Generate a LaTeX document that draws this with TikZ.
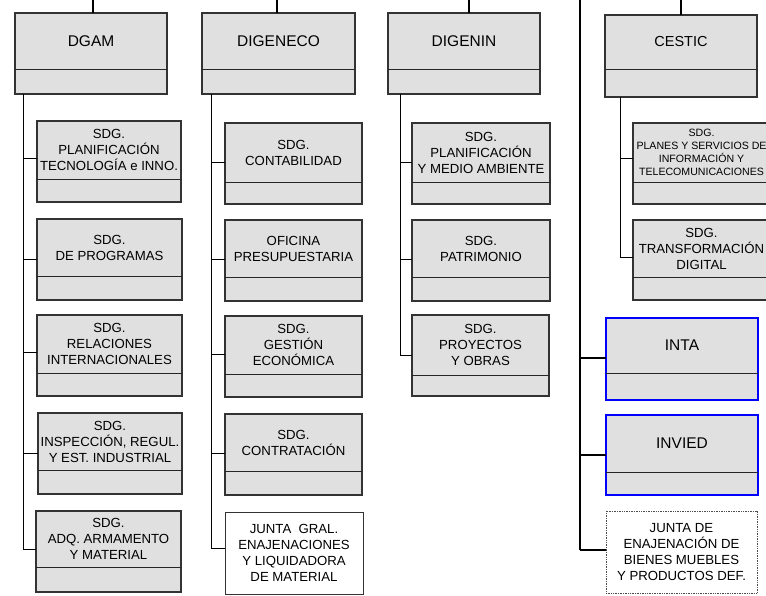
\documentclass[tikz,border=0pt]{standalone}
\usepackage{fontspec}
\setmainfont{Liberation Sans}
\begin{document}
\begin{tikzpicture}[x=1pt,y=-1pt,
  boxbase/.style={draw=black!80, line width=1.1pt, fill=black!12, inner sep=0pt, outer sep=0pt, anchor=north west},
  bluebox/.style={boxbase, draw=blue, line width=1.6pt},
  whitebox/.style={boxbase, fill=white, line width=0.9pt},
  dotbox/.style={boxbase, fill=white, draw=black!70, line width=0.7pt, densely dotted},
  divider/.style={draw=black!85, line width=0.9pt},
  topline/.style={draw=black, line width=1.6pt},
  spine/.style={draw=black, line width=0.9pt},
  mainline/.style={draw=black, line width=1.6pt},
  headtxt/.style={font=\fontsize{15.5}{18}\selectfont, align=center, inner sep=0pt},
  kidtxt/.style={font=\fontsize{13.2}{16}\selectfont, align=center, inner sep=0pt},
  smalltxt/.style={font=\fontsize{10.6}{13}\selectfont, align=center, inner sep=0pt}
]
\clip (0,0) rectangle (766,595);
\fill[white] (0,0) rectangle (766,595);

% #1 name, #2 x1, #3 y1, #4 x2, #5 y2, #6 divider y, #7 box style, #8 text style, #9 text
\newcommand\orgbox[9]{%
  \node[#7, minimum width=#4pt-#2pt, minimum height=#5pt-#3pt] (#1) at (#2,#3) {};
  \draw[divider] (#1.west |- 0,#6) -- (#1.east |- 0,#6);
  \node[#8] (#1t) at ({(#2+#4)/2},{(#3+#6)/2}) {#9};
}
\newcommand\plainbox[8]{%
  \node[#6, minimum width=#4pt-#2pt, minimum height=#5pt-#3pt] (#1) at (#2,#3) {};
  \node[#7] (#1t) at (#1.center) {#8};
}

% heads
\orgbox{dgam}{15}{13}{167}{94}{69}{boxbase}{headtxt}{DGAM}
\orgbox{digeneco}{202}{13}{355}{94}{69}{boxbase}{headtxt}{DIGENECO}
\orgbox{digenin}{388}{13}{540}{94}{69}{boxbase}{headtxt}{DIGENIN}
\orgbox{cestic}{605}{15}{757}{97}{69}{boxbase}{headtxt, font=\fontsize{14.5}{17}\selectfont}{CESTIC}

\coordinate (dgamtop) at (93,0);
\coordinate (digenecotop) at (277,0);
\coordinate (digenintop) at (469,0);
\coordinate (cestictop) at (681,0);
\draw[topline] (dgamtop) -- (dgamtop |- dgam.north);
\draw[topline] (digenecotop) -- (digenecotop |- digeneco.north);
\draw[topline] (digenintop) -- (digenintop |- digenin.north);
\draw[topline] (cestictop) -- (cestictop |- cestic.north);

% DGAM children
\orgbox{a1}{37}{121}{181}{202}{179}{boxbase}{kidtxt}{SDG.\\PLANIFICACIÓN\\TECNOLOGÍA e INNO.}
\orgbox{a2}{37}{219}{182}{300}{276}{boxbase}{kidtxt}{SDG.\\DE PROGRAMAS}
\orgbox{a3}{37}{315}{182}{396}{373}{boxbase}{kidtxt}{SDG.\\RELACIONES\\INTERNACIONALES}
\orgbox{a4}{38}{413}{182}{494}{470}{boxbase}{kidtxt}{SDG.\\INSPECCIÓN, REGUL.\\Y EST. INDUSTRIAL}
\orgbox{a5}{36}{511}{181}{592}{567}{boxbase}{kidtxt}{SDG.\\ADQ. ARMAMENTO\\Y MATERIAL}

\coordinate (aS) at (23,94);
\coordinate (aE) at (23,549);
\draw[spine] (aS) -- (aE);
\draw[spine] (a1.west |- 0,158) -- (aS |- 0,158);
\draw[spine] (a2.west |- 0,259) -- (aS |- 0,259);
\draw[spine] (a3.west |- 0,352) -- (aS |- 0,352);
\draw[spine] (a4.west |- 0,453) -- (aS |- 0,453);
\draw[spine] (a5.west |- aE) -- (aE);

% DIGENECO children
\orgbox{b1}{225}{123}{362}{204}{182}{boxbase}{kidtxt}{SDG.\\CONTABILIDAD}
\orgbox{b2}{225}{220}{362}{301}{277}{boxbase}{kidtxt}{OFICINA\\PRESUPUESTARIA}
\orgbox{b3}{225}{316}{362}{397}{374}{boxbase}{kidtxt}{SDG.\\GESTIÓN\\ECONÓMICA}
\orgbox{b4}{225}{414}{362}{495}{471}{boxbase}{kidtxt}{SDG.\\CONTRATACIÓN}
\plainbox{b5}{225}{512}{363}{594}{whitebox}{kidtxt}{JUNTA\ \ GRAL.\\ENAJENACIONES\\Y LIQUIDADORA\\DE MATERIAL}

\coordinate (bS) at (211,94);
\coordinate (bE) at (211,548);
\draw[spine] (bS) -- (bE);
\draw[spine] (b1.west |- 0,162) -- (bS |- 0,162);
\draw[spine] (b2.west |- 0,259) -- (bS |- 0,259);
\draw[spine] (b3.west |- 0,354) -- (bS |- 0,354);
\draw[spine] (b4.west |- 0,453) -- (bS |- 0,453);
\draw[spine] (b5.west |- bE) -- (bE);

% DIGENIN children
\orgbox{c1}{412}{123}{550}{204}{182}{boxbase}{kidtxt}{SDG.\\PLANIFICACIÓN\\Y MEDIO AMBIENTE}
\orgbox{c2}{412}{220}{550}{301}{277}{boxbase}{kidtxt}{SDG.\\PATRIMONIO}
\orgbox{c3}{412}{315}{549}{396}{375}{boxbase}{kidtxt}{SDG.\\PROYECTOS\\Y OBRAS}

\coordinate (cS) at (400,94);
\coordinate (cE) at (400,355);
\draw[spine] (cS) -- (cE);
\draw[spine] (c1.west |- 0,162) -- (cS |- 0,162);
\draw[spine] (c2.west |- 0,259) -- (cS |- 0,259);
\draw[spine] (c3.west |- cE) -- (cE);

% CESTIC children
\orgbox{d1}{633}{123}{770}{204}{182}{boxbase}{smalltxt}{SDG.\\PLANES Y SERVICIOS DE\\INFORMACIÓN Y\\TELECOMUNICACIONES}
\orgbox{d2}{633}{220}{770}{300}{277}{boxbase}{kidtxt}{SDG.\\TRANSFORMACIÓN\\DIGITAL}

\coordinate (dS) at (620,97);
\coordinate (dE) at (620,257);
\draw[spine] (dS) -- (dE);
\draw[spine] (d1.west |- 0,158) -- (dS |- 0,158);
\draw[spine] (d2.west |- dE) -- (dE);

% main line and attached bodies
\orgbox{inta}{606}{318}{758}{400}{373}{bluebox}{headtxt}{INTA}
\orgbox{invied}{606}{415}{758}{495}{472}{bluebox}{headtxt}{INVIED}
\plainbox{jebm}{606}{511}{757}{593}{dotbox}{kidtxt}{JUNTA DE\\ENAJENACIÓN DE\\BIENES MUEBLES\\Y PRODUCTOS DEF.}

\coordinate (mS) at (580,0);
\coordinate (mE) at (580,550);
\draw[mainline] (mS) -- (mE);
\draw[mainline] (inta.west |- 0,358) -- (mS |- 0,358);
\draw[mainline] (invied.west |- 0,455) -- (mS |- 0,455);
\draw[mainline] (jebm.west |- mE) -- (mE);
\end{tikzpicture}
\end{document}
